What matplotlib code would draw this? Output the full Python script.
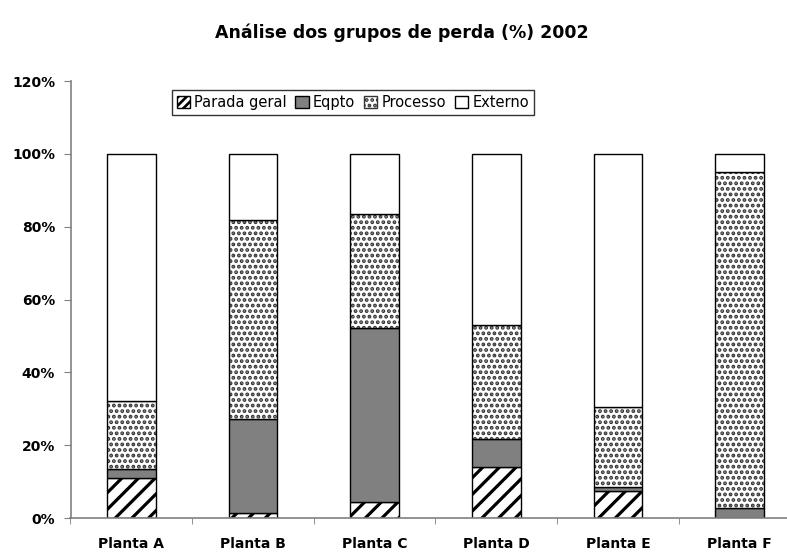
import matplotlib
matplotlib.use("Agg")
import matplotlib.pyplot as plt
from matplotlib.patches import Patch
import numpy as np

categories = ["Planta A", "Planta B", "Planta C", "Planta D", "Planta E", "Planta F"]
parada_geral = [11.1, 1.3, 4.4, 14.1, 7.4, 0.0]
eqpto = [2.3, 25.8, 47.8, 7.6, 1.2, 2.7]
processo = [18.6, 54.7, 31.3, 31.2, 22.0, 92.3]
externo = [100 - a - b - c for a, b, c in zip(parada_geral, eqpto, processo)]
series_names = ["Parada geral", "Eqpto", "Processo", "Externo"]
yticks = [0, 20, 40, 60, 80, 100, 120]
ytick_labels = ["0%", "20%", "40%", "60%", "80%", "100%", "120%"]
title = "Análise dos grupos de perda (%) 2002"

plt.rcParams['font.family'] = ['DejaVu Sans']

fig = plt.figure(figsize=(7.87, 5.55), dpi=100)
ax = fig.add_axes([70.5/787, 37/555, 730/787, 437/555])

x = np.arange(len(categories))
w = 0.4
bottom = np.zeros(len(categories))
data = [parada_geral, eqpto, processo, externo]
handles = []
for name, vals in zip(series_names, data):
    vals = np.array(vals)
    if name == "Parada geral":
        plt.rcParams['hatch.linewidth'] = 2.3
        ax.bar(x, vals, w, bottom=bottom, facecolor="white", edgecolor="black",
               hatch="//", linewidth=0)
        ax.bar(x, vals, w, bottom=bottom, facecolor="none", edgecolor="black", linewidth=1)
        handles.append(Patch(facecolor="white", edgecolor="black", hatch="////", linewidth=1))
    elif name == "Eqpto":
        ax.bar(x, vals, w, bottom=bottom, facecolor="#808080", edgecolor="black", linewidth=1)
        handles.append(Patch(facecolor="#808080", edgecolor="black", linewidth=1))
    elif name == "Processo":
        plt.rcParams['hatch.linewidth'] = 1.9
        ax.bar(x, vals, w, bottom=bottom, facecolor="white", edgecolor="#333333",
               hatch="...", linewidth=0)
        ax.bar(x, vals, w, bottom=bottom, facecolor="none", edgecolor="black", linewidth=1)
        handles.append(Patch(facecolor="white", edgecolor="#333333", hatch="...", linewidth=1))
    else:
        ax.bar(x, vals, w, bottom=bottom, facecolor="white", edgecolor="black", linewidth=1)
        handles.append(Patch(facecolor="white", edgecolor="black", linewidth=1))
    bottom = bottom + vals

ax.set_xlim(-0.5, len(categories) - 0.5)
ax.set_ylim(0, 120)
ax.set_yticks(yticks)
ax.set_yticklabels(ytick_labels, fontweight="bold", fontsize=10)
ax.set_xticks(x)
ax.set_xticklabels(categories, fontweight="bold", fontsize=10)
ax.set_xticks(np.arange(len(categories) + 1) - 0.5, minor=True)
ax.tick_params(axis="x", which="major", length=0, pad=14)
ax.tick_params(axis="x", which="minor", length=4, direction="out", color="#808080")
ax.tick_params(axis="y", length=5, direction="out", color="#808080", pad=6)
for s in ["top", "right"]:
    ax.spines[s].set_visible(False)
for s in ["left", "bottom"]:
    ax.spines[s].set_color("#808080")
    ax.spines[s].set_linewidth(1.2)

leg = ax.legend(handles, series_names, ncol=4, loc="upper left",
                bbox_to_anchor=(101/730, 0.98), frameon=True, fancybox=False,
                edgecolor="black", fontsize=10.5, handlelength=0.9, handleheight=0.9,
                handletextpad=0.3, columnspacing=0.6, borderpad=0.35, borderaxespad=0)
leg.get_frame().set_linewidth(1)

fig.text(402/787, 1 - 33/555, title, ha="center", va="center", fontsize=12.5, fontweight="bold")

fig.savefig("out.png", dpi=100)
